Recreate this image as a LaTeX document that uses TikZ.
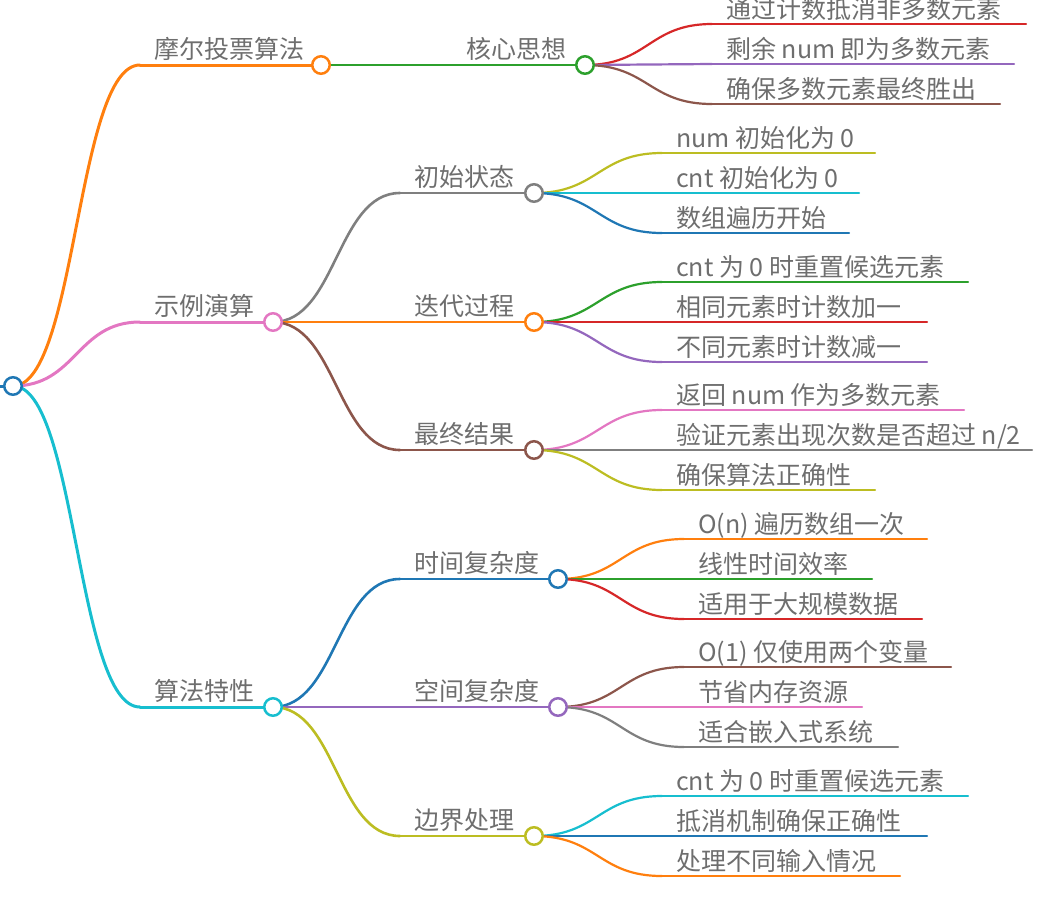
\documentclass[tikz,border=0pt]{standalone}
\usepackage{fontspec}
\setmainfont{Noto Sans CJK SC}
\usetikzlibrary{calc}
\definecolor{cBlue}{HTML}{1F77B4}
\definecolor{cOrange}{HTML}{FF7F0E}
\definecolor{cGreen}{HTML}{2CA02C}
\definecolor{cRed}{HTML}{D62728}
\definecolor{cPurple}{HTML}{9467BD}
\definecolor{cBrown}{HTML}{8C564B}
\definecolor{cPink}{HTML}{E377C2}
\definecolor{cGray}{HTML}{7F7F7F}
\definecolor{cOlive}{HTML}{BCBD22}
\definecolor{cCyan}{HTML}{17BECF}
\definecolor{txtgray}{HTML}{6E6E6E}
\pgfdeclarelayer{fg}
\pgfsetlayers{main,fg}
\tikzset{
  mmdotstyle/.style={circle,fill=white,line width=2.5pt,minimum size=17.5pt,inner sep=0pt},
  mmline/.style={line width=\mmw pt,line cap=round},
  mmlabel/.style={anchor=base west,inner sep=0pt,text=txtgray,font=\fontsize{25}{29}\selectfont},
}
\def\mmw{3}
\newcommand{\mmdot}[4]{\begin{pgfonlayer}{fg}\node[mmdotstyle,draw=#2] (#1) at (#3,#4) {};\end{pgfonlayer}}
\newcommand{\mmcurve}[7]{%
  \pgfmathsetmacro\mmx{(#3+#6)/2}%
  \draw[mmline,draw=#1] (#2.center) .. controls (\mmx,#4) and (\mmx,#7) .. (#5);}
% #1 name #2 color #3 parent #4 px #5 py #6 sx #7 y #8 circle x #9 text
\newcommand{\mmnode}[9]{%
  \coordinate (#1s) at (#6,#7);
  \mmdot{#1}{#2}{#8}{#7}%
  \mmcurve{#2}{#3}{#4}{#5}{#1s}{#6}{#7}%
  \draw[mmline,draw=#2] (#1s) -- (#1.center);
  \node[mmlabel] (#1t) at ([xshift=14pt,yshift=7pt]#1s) {#9};}
% #1 name #2 color #3 parent #4 px #5 py #6 sx #7 y #8 end x #9 text
\newcommand{\mmleaf}[9]{%
  \coordinate (#1s) at (#6,#7);
  \coordinate (#1e) at (#8,#7);
  \mmcurve{#2}{#3}{#4}{#5}{#1s}{#6}{#7}%
  \draw[mmline,draw=#2] (#1s) -- (#1e);
  \node[mmlabel] (#1t) at ([xshift=14pt,yshift=6pt]#1s) {#9};}
\begin{document}
\begin{tikzpicture}[x=1pt,y=-1pt]
\useasboundingbox (0,0) rectangle (1058,906);
% root
\mmdot{R}{cBlue}{13}{386}
\coordinate (R0) at (0,386);
\draw[mmline,draw=cBlue] (R0) -- (R.center);
% level 1
\def\mmw{3}
\mmnode{A}{cOrange}{R}{13}{386}{140}{65}{321}{摩尔投票算法}
\mmnode{B}{cPink}{R}{13}{386}{140}{322}{273}{示例演算}
\mmnode{C}{cCyan}{R}{13}{386}{140}{707}{273}{算法特性}
% level 2
\def\mmw{2.6}
\mmnode{Aa}{cGreen}{A}{321}{65}{452}{65}{585}{核心思想}
\mmnode{Ba}{cGray}{B}{273}{322}{400}{193}{534}{初始状态}
\mmnode{Bb}{cOrange}{B}{273}{322}{400}{322}{534}{迭代过程}
\mmnode{Bc}{cBrown}{B}{273}{322}{400}{450}{534}{最终结果}
\mmnode{Ca}{cBlue}{C}{273}{707}{400}{579}{558}{时间复杂度}
\mmnode{Cb}{cPurple}{C}{273}{707}{400}{707}{558}{空间复杂度}
\mmnode{Cc}{cOlive}{C}{273}{707}{400}{836}{534}{边界处理}
% level 3
\def\mmw{2.2}
\mmleaf{Aa1}{cRed}{Aa}{585}{65}{712}{24}{1026}{通过计数抵消非多数元素}
\mmleaf{Aa2}{cPurple}{Aa}{585}{65}{712}{64}{1014}{剩余 num 即为多数元素}
\mmleaf{Aa3}{cBrown}{Aa}{585}{65}{712}{104}{1000}{确保多数元素最终胜出}
\mmleaf{Ba1}{cOlive}{Ba}{534}{193}{662}{153}{875}{num 初始化为 0}
\mmleaf{Ba2}{cCyan}{Ba}{534}{193}{662}{193}{859}{cnt 初始化为 0}
\mmleaf{Ba3}{cBlue}{Ba}{534}{193}{662}{233}{849}{数组遍历开始}
\mmleaf{Bb1}{cGreen}{Bb}{534}{322}{662}{282}{968}{cnt 为 0 时重置候选元素}
\mmleaf{Bb2}{cRed}{Bb}{534}{322}{662}{322}{927}{相同元素时计数加一}
\mmleaf{Bb3}{cPurple}{Bb}{534}{322}{662}{362}{927}{不同元素时计数减一}
\mmleaf{Bc1}{cPink}{Bc}{534}{450}{662}{410}{964}{返回 num 作为多数元素}
\mmleaf{Bc2}{cGray}{Bc}{534}{450}{662}{450}{1032}{验证元素出现次数是否超过 n/2}
\mmleaf{Bc3}{cOlive}{Bc}{534}{450}{662}{490}{875}{确保算法正确性}
\mmleaf{Ca1}{cOrange}{Ca}{558}{579}{684}{539}{927}{O(n) 遍历数组一次}
\mmleaf{Ca2}{cGreen}{Ca}{558}{579}{684}{579}{872}{线性时间效率}
\mmleaf{Ca3}{cRed}{Ca}{558}{579}{684}{619}{922}{适用于大规模数据}
\mmleaf{Cb1}{cBrown}{Cb}{558}{707}{684}{667}{951}{O(1) 仅使用两个变量}
\mmleaf{Cb2}{cPink}{Cb}{558}{707}{684}{707}{862}{节省内存资源}
\mmleaf{Cb3}{cGray}{Cb}{558}{707}{684}{747}{898}{适合嵌入式系统}
\mmleaf{Cc1}{cCyan}{Cc}{534}{836}{662}{796}{968}{cnt 为 0 时重置候选元素}
\mmleaf{Cc2}{cBlue}{Cc}{534}{836}{662}{836}{927}{抵消机制确保正确性}
\mmleaf{Cc3}{cOrange}{Cc}{534}{836}{662}{876}{900}{处理不同输入情况}
\end{tikzpicture}
\end{document}
